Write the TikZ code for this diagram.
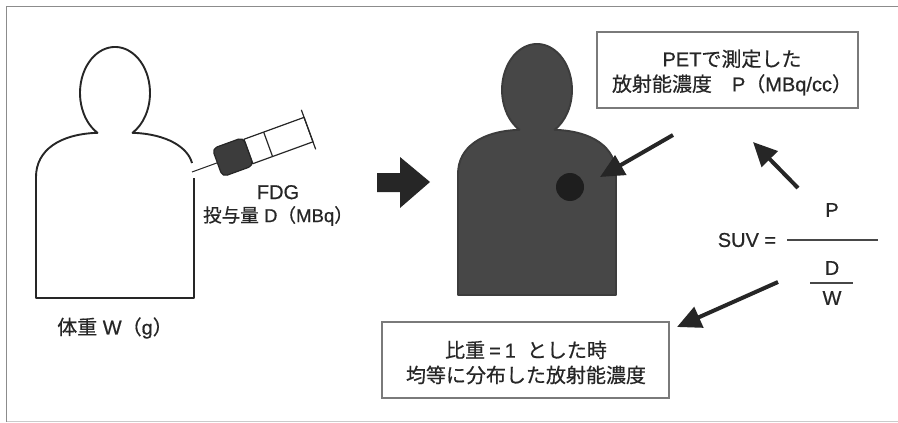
\documentclass[tikz,border=0pt]{standalone}
\usepackage{fontspec}
\setmainfont{Liberation Sans}[FakeBold=0.6]
\newfontfamily\jpfont{Noto Sans CJK JP}[FakeBold=0.5]
\newcommand\jt[1]{{\jpfont #1}}
\usetikzlibrary{arrows.meta}
\definecolor{ink}{HTML}{262626}
\definecolor{framec}{HTML}{8C8C8C}
\definecolor{boxc}{HTML}{7A7A7A}
\definecolor{bodyc}{HTML}{474747}
\definecolor{capc}{HTML}{3C3C3C}
\begin{document}
\begin{tikzpicture}[x=1pt,y=-1pt,
  txt/.style={inner sep=0pt, text=ink, font=\fontsize{20}{25}\selectfont, align=center},
  fig/.style={line width=1.9pt, draw=ink, line join=round},
  box/.style={draw=boxc, line width=1.2pt, inner sep=0pt},
  bigarrow/.style={draw=ink, line width=4pt, -{Triangle[length=24pt,width=22pt]}},
  fracline/.style={draw=ink!85, line width=1.3pt},
  syr/.style={draw=ink, line width=1.2pt, line join=round},
]
\useasboundingbox (0,0) rectangle (898,423);

% outer frame (open on the right)
\draw[framec, line width=1.5pt] (898,6.5) -- (6.5,6.5) -- (6.5,421.5);
\draw[framec!45, line width=1.5pt] (6.5,421.5) -- (898,421.5);

% outlined person before injection
\draw[fig] (194,178) -- (194,298) -- (36,298) -- (36,177)
  .. controls (36,150) and (60,134) .. (97.5,132.8)
  arc[start angle=240, end angle=-60, x radius=35pt, y radius=46pt]
  .. controls (168,134) and (188,148) .. (192,163);

% syringe
\begin{scope}[shift={(192,172)}, rotate=20]
  \coordinate (needletip) at (0,0);
  \coordinate (needlebase) at (28,0);
  \draw[syr, line width=1pt] (needletip) -- (needlebase);
  \draw[syr] (60,-13) rectangle (124,13);
  \draw[syr] (81,-13) -- (81,13);
  \draw[syr] (124,-21) -- (124,21);
  \draw[syr, fill=capc, rounded corners=5pt] (27,-15) rectangle (60,15);
\end{scope}

\node[txt] (fdg) at (278,205.5) {FDG\\[-2pt]{\fontsize{18.6}{24}\selectfont\jt{投与量} D\jt{（}MBq\jt{）}}};
\node[txt] (weight) at (115,328) {\jt{体重} W\jt{（}g\jt{）}};

% block arrow
\fill[ink] (377,173) -- (400,173) -- (400,157) -- (430,182) -- (400,208) -- (400,192) -- (377,192) -- cycle;

% filled person after injection
\begin{scope}[shift={(422,-3)}]
\draw[fig, fill=bodyc, draw=ink!90] (36,298) -- (36,177)
  .. controls (36,150) and (60,134) .. (97.5,132.8)
  arc[start angle=240, end angle=-60, x radius=35pt, y radius=46pt]
  .. controls (170,134) and (194,150) .. (194,177) -- (194,298) -- cycle;
\end{scope}
\node[circle, fill=ink!80!black, minimum size=28pt, inner sep=0pt] (lesion) at (570,187) {};

% boxes
\node[box, minimum width=261pt, minimum height=76pt] (petbox) at (727.5,70) {};
\node[txt] (pettxt) at (732,72.5) {PET\jt{で測定した}\\\jt{放射能濃度　}P\jt{（}MBq/cc\jt{）}};
\node[box, minimum width=287pt, minimum height=76pt] (unibox) at (525.5,360) {};
\node[txt] (unitxt) at (526,362.5) {\jt{比重}\hspace{4pt}=\hspace{4pt}1\hspace{11pt}\jt{とした時}\\\jt{均等に分布した放射能濃度}};

% SUV formula
\node[txt] (suv) at (747,240) {SUV =};
\node[txt] (numP) at (832,210) {P};
\node[txt] (denD) at (832,268) {D};
\node[txt] (denW) at (832,298) {W};
\draw[fracline] (787,240) -- (878,240);
\draw[fracline] (810,283) -- (853,283);

% arrows
\coordinate (a1s) at (673,135);
\coordinate (a1e) at (600,177);
\coordinate (a2s) at (798,188);
\coordinate (a2e) at (753,142);
\coordinate (a3s) at (778,282);
\coordinate (a3e) at (677,327);
\draw[bigarrow] (a1s) -- (a1e);
\draw[bigarrow] (a2s) -- (a2e);
\draw[bigarrow] (a3s) -- (a3e);
\end{tikzpicture}
\end{document}
